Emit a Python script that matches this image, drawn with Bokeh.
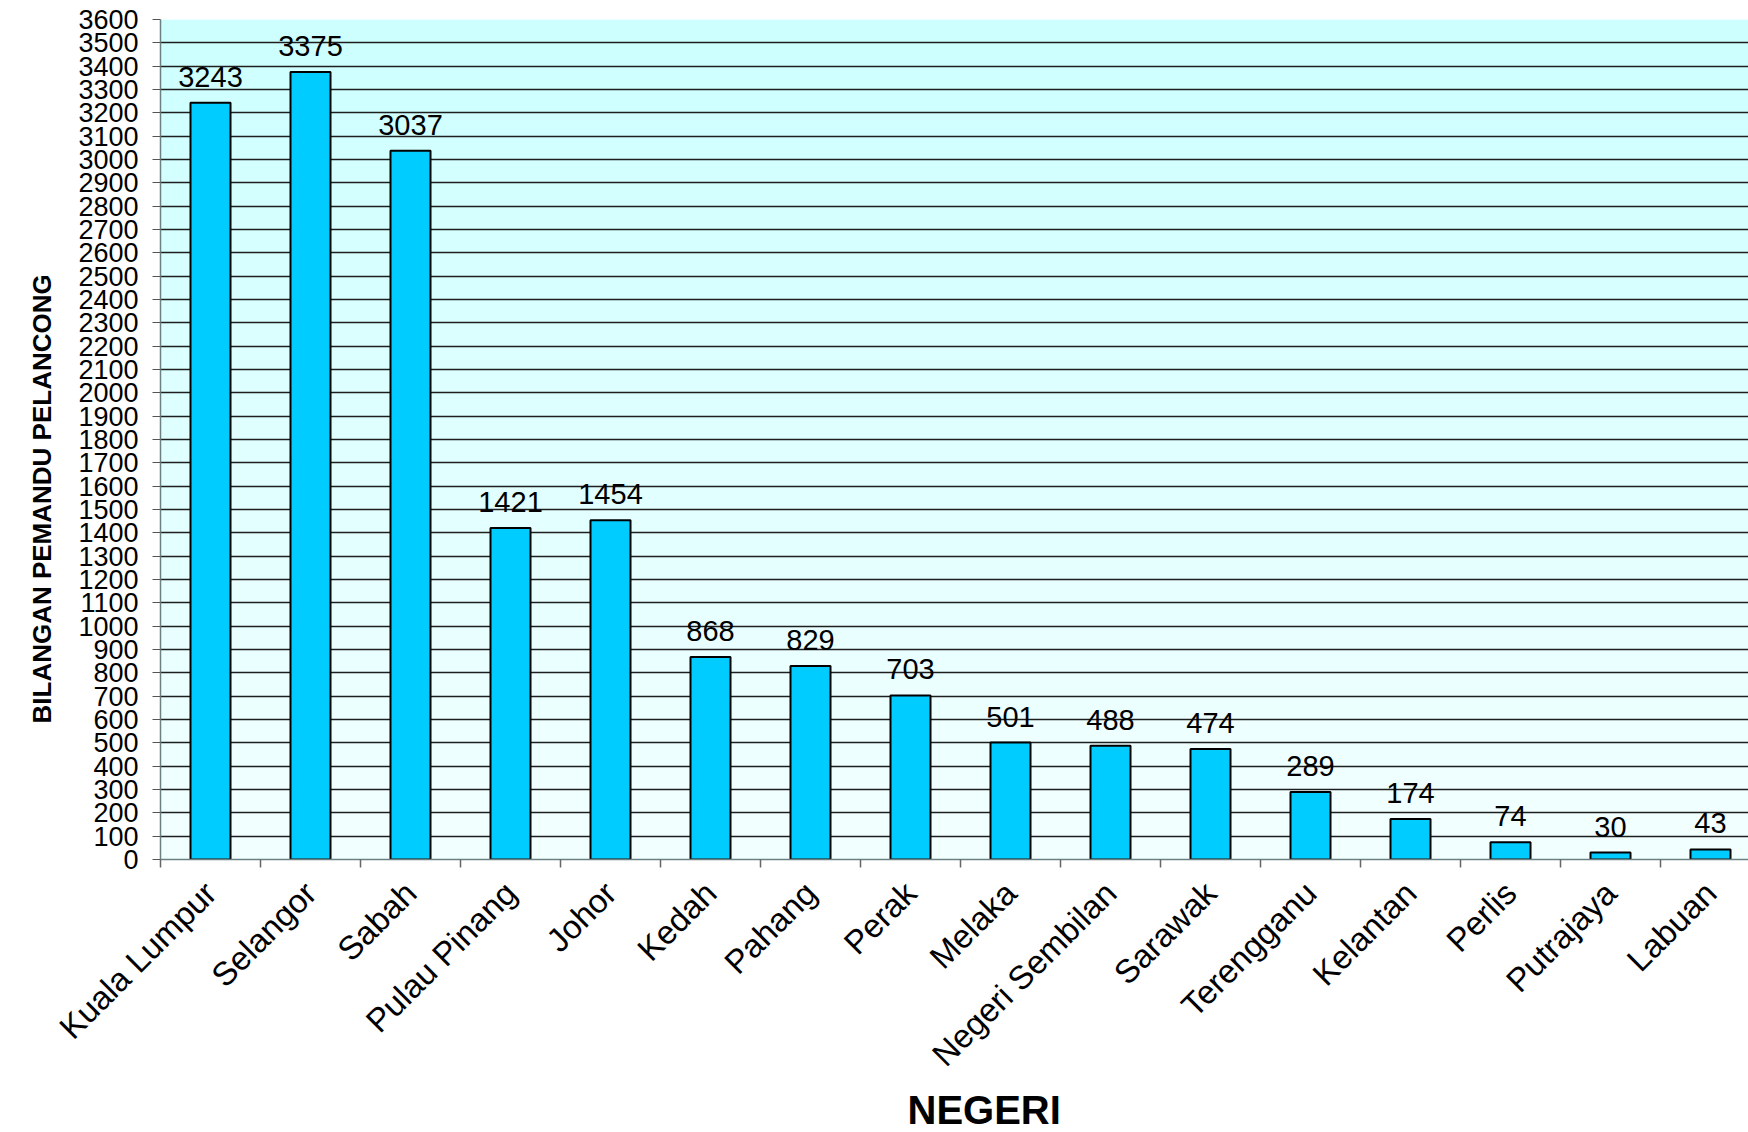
import numpy as np
from bokeh.plotting import figure
from bokeh.models import FixedTicker, Range1d, ColumnDataSource, BoxAnnotation, Title
from bokeh.core.properties import value
from bokeh.embed import file_html
from bokeh.resources import INLINE

states = ["Kuala Lumpur", "Selangor", "Sabah", "Pulau Pinang", "Johor", "Kedah",
          "Pahang", "Perak", "Melaka", "Negeri Sembilan", "Sarawak", "Terengganu",
          "Kelantan", "Perlis", "Putrajaya", "Labuan"]
counts = [3243, 3375, 3037, 1421, 1454, 868, 829, 703, 501, 488, 474, 289, 174, 74, 30, 43]
y_ticks = list(range(0, 3700, 100))

FONT = "Liberation Sans"
xs = list(range(len(states)))

src = ColumnDataSource(dict(x=xs, top=counts, label=[str(c) for c in counts]))

p = figure(width=1748, height=1132, output_backend="svg", toolbar_location=None,
           x_range=Range1d(-0.5, 15.38), y_range=Range1d(0, 3600),
           min_border_left=160, min_border_right=0, min_border_top=19, min_border_bottom=273)
p.outline_line_color = None
p.background_fill_color = "#F3FFFF"

# background gradient bands
top_c = np.array([0xCC, 0xFF, 0xFF])
bot_c = np.array([0xF3, 0xFF, 0xFF])
for i in range(len(y_ticks) - 1):
    t = (y_ticks[i] + 50) / 3600.0
    c = bot_c + (top_c - bot_c) * t
    col = "#%02x%02x%02x" % tuple(int(round(v)) for v in c)
    p.add_layout(BoxAnnotation(bottom=y_ticks[i], top=y_ticks[i + 1], fill_color=col,
                               fill_alpha=1.0, line_color=None, level="image"))

p.vbar(x="x", top="top", width=0.4, bottom=0, source=src,
       fill_color="#00CCFF", line_color="black", line_width=2)
p.text(x="x", y="top", text="label", source=src, text_align="center",
       text_baseline="alphabetic", y_offset=-26, text_font=value(FONT),
       text_font_size="29px", text_color="black")

# grid
p.xgrid.grid_line_color = None
p.ygrid.ticker = FixedTicker(ticks=y_ticks)
p.ygrid.grid_line_color = "#1e1e1e"
p.ygrid.grid_line_width = 1.4

# y axis
p.yaxis.ticker = FixedTicker(ticks=y_ticks)
p.yaxis.axis_line_color = "#6b8080"
p.yaxis.axis_line_width = 1.5
p.yaxis.major_tick_out = 8
p.yaxis.major_tick_in = 0
p.yaxis.major_tick_line_color = "#555555"
p.yaxis.minor_tick_line_color = None
p.yaxis.major_label_text_font = FONT
p.yaxis.major_label_text_font_size = "27px"
p.yaxis.major_label_text_color = "black"
p.yaxis.major_label_standoff = 14

# x axis
boundaries = [i - 0.5 for i in range(len(states) + 1)]
p.xaxis.ticker = FixedTicker(ticks=xs, minor_ticks=boundaries)
p.xaxis.major_label_overrides = {i: s for i, s in zip(xs, states)}
p.xaxis.major_label_orientation = np.pi / 4
p.xaxis.major_tick_line_color = None
p.xaxis.major_tick_out = 8
p.xaxis.major_tick_in = 0
p.xaxis.minor_tick_out = 8
p.xaxis.minor_tick_in = 0
p.xaxis.minor_tick_line_color = "#666666"
p.xaxis.minor_tick_line_width = 1.5
p.xaxis.axis_line_color = "#6b8080"
p.xaxis.axis_line_width = 1.5
p.xaxis.major_label_text_font = FONT
p.xaxis.major_label_text_font_size = "33px"
p.xaxis.major_label_text_color = "black"
p.xaxis.major_label_standoff = 20

# axis titles
xt = Title(text="NEGERI", align="left", offset=747, standoff=-8, text_font=FONT,
           text_font_style="bold", text_font_size="40px", text_color="black")
p.add_layout(xt, "below")
yt = Title(text="BILANGAN PEMANDU PELANCONG", align="left", vertical_align="middle",
           text_font=FONT, text_font_style="bold", text_font_size="26px",
           text_color="black", offset=136, standoff=35)
p.add_layout(yt, "left")

open("out.html", "w").write(file_html(p, INLINE))
